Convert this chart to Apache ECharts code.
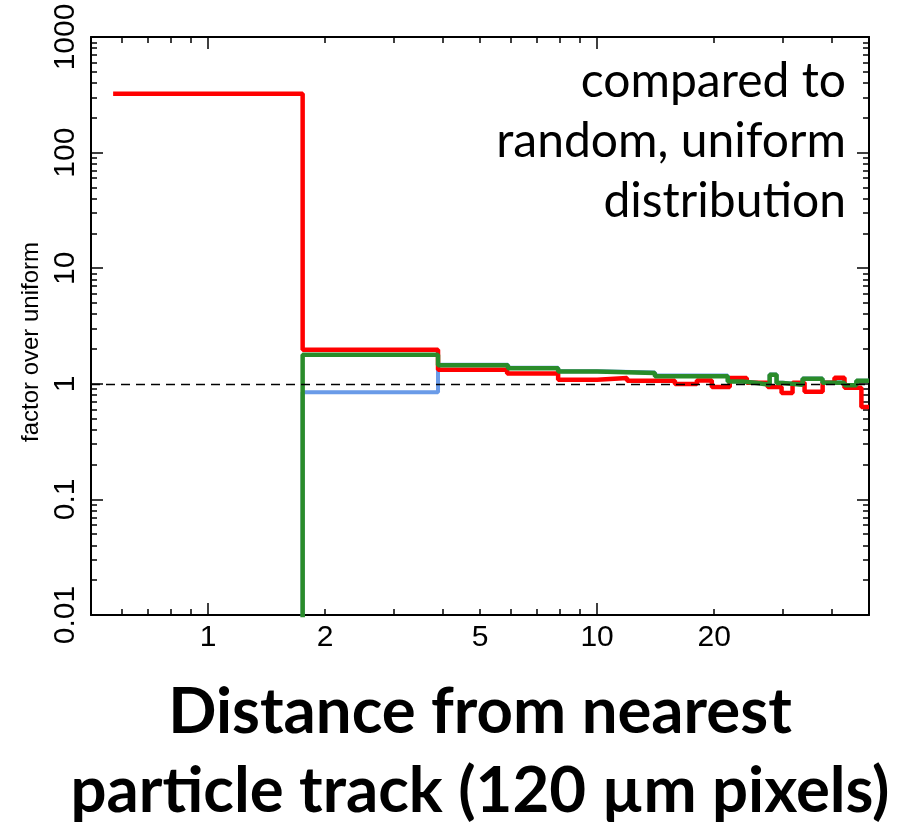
<!DOCTYPE html>
<html><head><meta charset="utf-8">
<script src="https://cdn.jsdelivr.net/npm/echarts@6/dist/echarts.min.js"></script>
<style>html,body{margin:0;padding:0;background:#fff}#c{width:901px;height:822px}</style>
</head><body><div id="c"></div>
<script>
// Bin edges (distance, pixels) and values (factor over uniform)
const redEdges   = [0.57, 1.75, 3.9, 5.87, 7.94, 10, 11.94, 15.85, 18.05, 19.72, 21.93, 24.25, 27.45, 29.8, 31.8, 34.15, 38, 40.76, 43.25, 47.8, 50];
const redValues  = [323, 1.97, 1.32, 1.23, 1.083, 1.12, 1.06, 0.994, 1.068, 0.936, 1.12, 1.02, 0.936, 0.831, 1.02, 0.853, 1.02, 1.127, 0.923, 0.63];
const greenEdges = [0.57, 1.75, 3.9, 5.9, 7.94, 10, 14.08, 21.67, 23.68, 25.73, 27.77, 28.93, 29.99, 33.75, 37.97, 43.25, 46.4, 50];
const greenValues= [0.001, 1.78, 1.445, 1.366, 1.278, 1.24, 1.165, 1.047, 1.014, 0.98, 1.196, 1.014, 0.98, 1.105, 1.02, 0.97, 1.06];
const blueEdges  = [0.57, 1.75, 3.9, 5.9, 7.94, 10, 14.08, 21.67, 23.68, 25.73, 27.77, 28.93, 29.99, 33.75, 37.97, 43.25, 46.4, 50];
const blueValues = [0.001, 0.847, 1.46, 1.375, 1.285, 1.25, 1.18, 1.052, 1.02, 0.985, 1.205, 1.02, 0.985, 1.11, 1.025, 0.975, 1.065];

const xLabelValues = [1, 2, 5, 10, 20];
const xMajorTicks  = [1, 10];
const xMinorTicks  = [0.6, 0.7, 0.8, 0.9, 2, 3, 4, 5, 6, 7, 8, 9, 20, 30, 40];
const yLabelValues = [0.01, 0.1, 1, 10, 100, 1000];
const yMinorTicks  = [0.02,0.03,0.04,0.05,0.06,0.07,0.08,0.09,
                      0.2,0.3,0.4,0.5,0.6,0.7,0.8,0.9,
                      2,3,4,5,6,7,8,9,
                      20,30,40,50,60,70,80,90,
                      200,300,400,500,600,700,800,900];
const referenceLevel = 1;

function steps(edges, values) {
  const pts = values.map((v, i) => [edges[i], v]);
  pts.push([edges[edges.length - 1], values[values.length - 1]]);
  return pts;
}

const tickFont = '"Liberation Sans Narrow","Liberation Sans",Arial,sans-serif';

function xAx(position, ticks, len, showLine, labels) {
  return {
    type: 'log', logBase: 10, min: 0.5, max: 50, position: position, gridIndex: 0,
    axisLine: {show: showLine, lineStyle: {color: '#000', width: 2}},
    axisTick: {show: true, inside: true, length: len, customValues: ticks, lineStyle: {color: '#000', width: 1.5}},
    axisLabel: labels ? {show: true, customValues: labels, margin: 8, color: '#000', fontSize: 30, fontFamily: tickFont,
                 formatter: v => String(v)} : {show: false},
    splitLine: {show: false}, minorTick: {show: false}
  };
}
function yAx(position, ticks, len, showLine, labels) {
  return {
    type: 'log', logBase: 10, min: 0.01, max: 1000, position: position, gridIndex: 0,
    axisLine: {show: showLine, lineStyle: {color: '#000', width: 2}},
    axisTick: {show: true, inside: true, length: len, customValues: ticks, lineStyle: {color: '#000', width: 1.5}},
    axisLabel: labels ? {show: true, customValues: labels, rotate: 90, margin: 10, color: '#000', fontSize: 30, fontFamily: tickFont,
                 formatter: v => String(v)} : {show: false},
    splitLine: {show: false}, minorTick: {show: false}
  };
}

const xAxes = [
  xAx('bottom', xMajorTicks, 12, true, xLabelValues),
  xAx('bottom', xMinorTicks, 6, false, null),
  xAx('top', xMajorTicks, 12, true, null),
  xAx('top', xMinorTicks, 6, false, null)
];
xAxes[0].name = 'Distance from nearest\nparticle track (120 µm pixels)';
xAxes[0].nameLocation = 'middle';
xAxes[0].nameGap = 58;
xAxes[0].nameTextStyle = {fontFamily: 'Lato, "Open Sans", sans-serif', fontWeight: 'bold', fontSize: 63.5, lineHeight: 79, color: '#000'};

const yAxes = [
  yAx('left', yLabelValues, 12, true, yLabelValues),
  yAx('left', yMinorTicks, 6, false, null),
  yAx('right', yLabelValues, 12, true, null),
  yAx('right', yMinorTicks, 6, false, null)
];
yAxes[0].name = 'factor over uniform';
yAxes[0].nameLocation = 'middle';
yAxes[0].nameRotate = 90;
yAxes[0].nameGap = 46;
yAxes[0].nameTextStyle = {fontFamily: tickFont, fontSize: 24, color: '#000', padding: [0, 32, 0, 0]};

const chart = echarts.init(document.getElementById('c'), null, {renderer: 'canvas'});
chart.setOption({
  animation: false,
  backgroundColor: '#fff',
  title: {
    text: 'compared to\nrandom, uniform\ndistribution',
    left: 846, top: 52, padding: 0, textAlign: 'right',
    textStyle: {fontFamily: 'Lato, "Open Sans", sans-serif', fontWeight: 'normal', fontSize: 48, lineHeight: 60, color: '#000'}
  },
  grid: {left: 91, right: 32, top: 37, bottom: 207, containLabel: false, outerBoundsMode: 'none'},
  xAxis: xAxes,
  yAxis: yAxes,
  series: [
    {type: 'line', name: 'blue', step: 'end', data: steps(blueEdges, blueValues), showSymbol: false, symbol: 'none',
     lineStyle: {color: '#6a9be8', width: 4}, z: 2,
     markLine: {silent: true, symbol: 'none', label: {show: false},
       lineStyle: {color: '#000', type: [9, 6], width: 1.3}, data: [{yAxis: referenceLevel}]}},
    {type: 'line', name: 'red', step: 'end', data: steps(redEdges, redValues), showSymbol: false, symbol: 'none',
     lineStyle: {color: '#ff0000', width: 4.5}, z: 3},
    {type: 'line', name: 'green', step: 'end', data: steps(greenEdges, greenValues), showSymbol: false, symbol: 'none',
     lineStyle: {color: '#2a8c2a', width: 4.5}, z: 4}
  ]
});
</script></body></html>
